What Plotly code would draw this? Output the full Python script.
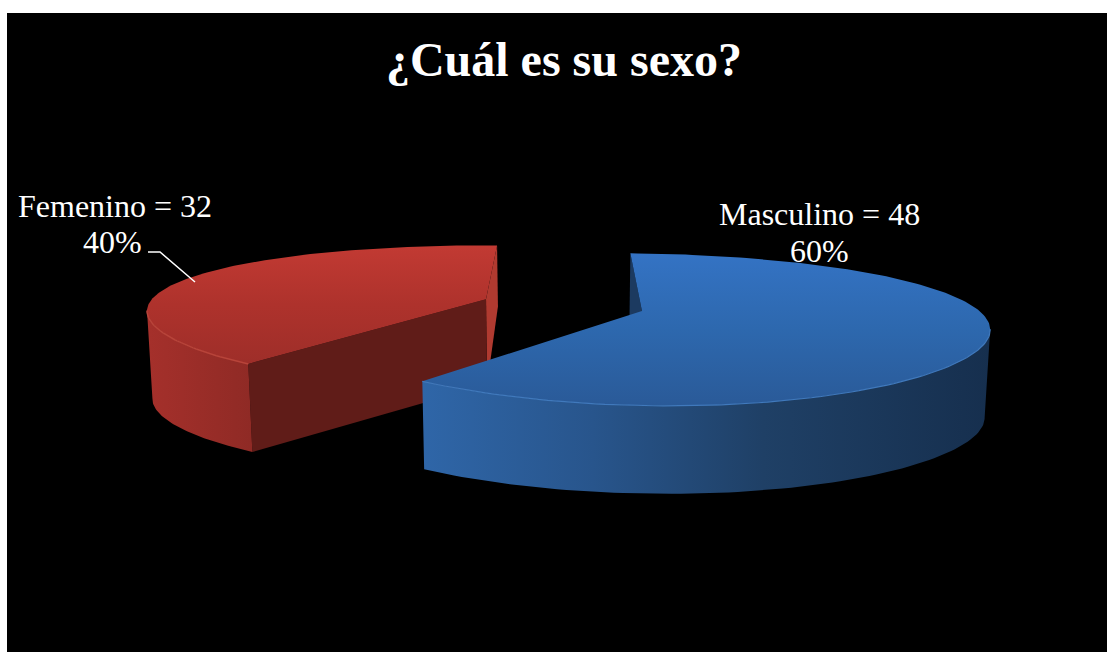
import numpy as np
import plotly.graph_objects as go

# --- data ---
categories = ["Masculino", "Femenino"]
values = [48, 32]
title_text = "¿Cuál es su sexo?"

# --- colours (the fill gradient's 0 lands at the bottom of the image here) ---
BLUE_TOP = [[0, "#2A5A98"], [0.5, "#2D68AE"], [1, "#3473C4"]]
BLUE_SIDE = [[0, "#2F66A8"], [0.3, "#28558C"], [0.6, "#1F4066"], [1, "#162F4E"]]
BLUE_FACE = "#1C3A60"
BLUE_RIM = "#4079BC"
RED_TOP = [[0, "#9E2E29"], [0.5, "#AE322C"], [1, "#C23A33"]]
RED_SIDE = [[0, "#A5302B"], [1, "#8F2A25"]]
RED_FACE_FRONT = "#601C18"
RED_FACE_IN = "#B03A30"
RED_RIM = "#B8443A"

# --- pseudo-3D view used to project the exploded pie ---
W, A, XC, YC = 336, 69, 563, 305
KX, KY = 0.17, 0.24
EXPLODE = 0.244
SHEAR = 0.008
DEPTH = 88
TAPER = 0.987


def project(px, py):
    sx = 1 / (1 + KX * py)
    sy = 1 / (1 + KY * py)
    x = XC + W * px * sx
    return x, YC - A * py * sy + SHEAR * (x - XC), sy


def bottom(x, y, sy):
    return XC + (x - XC) * TAPER, y + DEPTH * np.minimum(1.0, sy ** 1.6)


def wedge_geom(t0, t1):
    mid = (t0 + t1) / 2
    ox, oy = EXPLODE * np.sin(mid), EXPLODE * np.cos(mid)
    t = np.linspace(t0, t1, 160)
    rim = project(ox + np.sin(t), oy + np.cos(t))
    apex = project(np.array([ox]), np.array([oy]))
    return t, rim, apex


def poly(x, y, **kw):
    return go.Scatter(x=np.asarray(x), y=np.asarray(y), mode="lines", fill="toself",
                      line=dict(width=0), hoverinfo="skip", showlegend=False, **kw)


total = sum(values)
fracs = [v / total for v in values]
t_b0, t_b1 = 0.0, 2 * np.pi * fracs[0]
t_r0, t_r1 = t_b1, 2 * np.pi

fig = go.Figure()

# ---- Femenino wedge (behind) ----
t, (rx, ry, rs), (ax, ay, asy) = wedge_geom(t_r0, t_r1)
bx, by = bottom(rx, ry, rs)
abx, aby = bottom(ax, ay, asy)
fig.add_trace(poly([ax[0], rx[-1], bx[-1], abx[0]], [ay[0], ry[-1], by[-1], aby[0]],
                   fillcolor=RED_FACE_IN))
fig.add_trace(poly([ax[0], rx[0], bx[0], abx[0]], [ay[0], ry[0], by[0], aby[0]],
                   fillcolor=RED_FACE_FRONT))
imin = int(np.argmin(rx)) + 1
fig.add_trace(poly(np.r_[rx[:imin], bx[:imin][::-1]], np.r_[ry[:imin], by[:imin][::-1]],
                   fillcolor="#000000",
                   fillgradient=dict(type="horizontal", colorscale=RED_SIDE)))
fig.add_trace(poly(np.r_[ax, rx], np.r_[ay, ry], fillcolor="#000000",
                   fillgradient=dict(type="vertical", colorscale=RED_TOP)))
fig.add_trace(go.Scatter(x=rx[:imin], y=ry[:imin], mode="lines", hoverinfo="skip", showlegend=False,
                         line=dict(color=RED_RIM, width=1.5)))

# ---- Masculino wedge (front) ----
t, (rx, ry, rs), (ax, ay, asy) = wedge_geom(t_b0, t_b1)
bx, by = bottom(rx, ry, rs)
abx, aby = bottom(ax, ay, asy)
fig.add_trace(poly([ax[0], rx[0], bx[0], abx[0]], [ay[0], ry[0], by[0], aby[0]],
                   fillcolor=BLUE_FACE))
imax = int(np.argmax(rx))
fig.add_trace(poly(np.r_[rx[imax:], bx[imax:][::-1]], np.r_[ry[imax:], by[imax:][::-1]],
                   fillcolor="#000000",
                   fillgradient=dict(type="horizontal", colorscale=BLUE_SIDE)))
fig.add_trace(poly(np.r_[ax, rx], np.r_[ay, ry], fillcolor="#000000",
                   fillgradient=dict(type="vertical", colorscale=BLUE_TOP)))
fig.add_trace(go.Scatter(x=rx[imax:], y=ry[imax:], mode="lines", hoverinfo="skip", showlegend=False,
                         line=dict(color=BLUE_RIM, width=1.2)))

# ---- leader line of Femenino ----
leader_x = [148, 160, 195]
leader_y = [252, 252, 282]
fig.add_trace(go.Scatter(x=leader_x, y=leader_y, mode="lines", hoverinfo="skip",
                         showlegend=False, line=dict(color="#FFFFFF", width=1.5)))

# ---- data labels ----
FONT = dict(family="Liberation Serif", size=32, color="#FFFFFF")
label_pos = {"Masculino": (819.5, 819, 214, 251), "Femenino": (114.5, 112.5, 206, 242)}
for cat, val, fr in zip(categories, values, fracs):
    x1, x2, y1, y2 = label_pos[cat]
    fig.add_annotation(x=x1, y=y1, text=f"{cat} = {val}", showarrow=False,
                       font=FONT, xanchor="center", yanchor="middle")
    fig.add_annotation(x=x2, y=y2, text=f"{round(fr * 100)}%", showarrow=False,
                       font=FONT, xanchor="center", yanchor="middle")

fig.update_layout(
    width=1107, height=652, autosize=False,
    paper_bgcolor="#FFFFFF", plot_bgcolor="#000000",
    margin=dict(l=7, r=0, t=13, b=0),
    showlegend=False,
    title=dict(text=f"<b>{title_text}</b>", x=560.5 / 1107, xanchor="center", xref="paper",
               y=1 - 59 / 652, yanchor="middle", yref="container",
               font=dict(family="Liberation Serif", size=48, color="#FFFFFF")),
    xaxis=dict(range=[7, 1107], visible=False, fixedrange=True),
    yaxis=dict(range=[652, 13], visible=False, fixedrange=True),
)
fig.write_html("out.html", config=dict(displayModeBar=False),
               post_script="document.body.style.margin='0';")
